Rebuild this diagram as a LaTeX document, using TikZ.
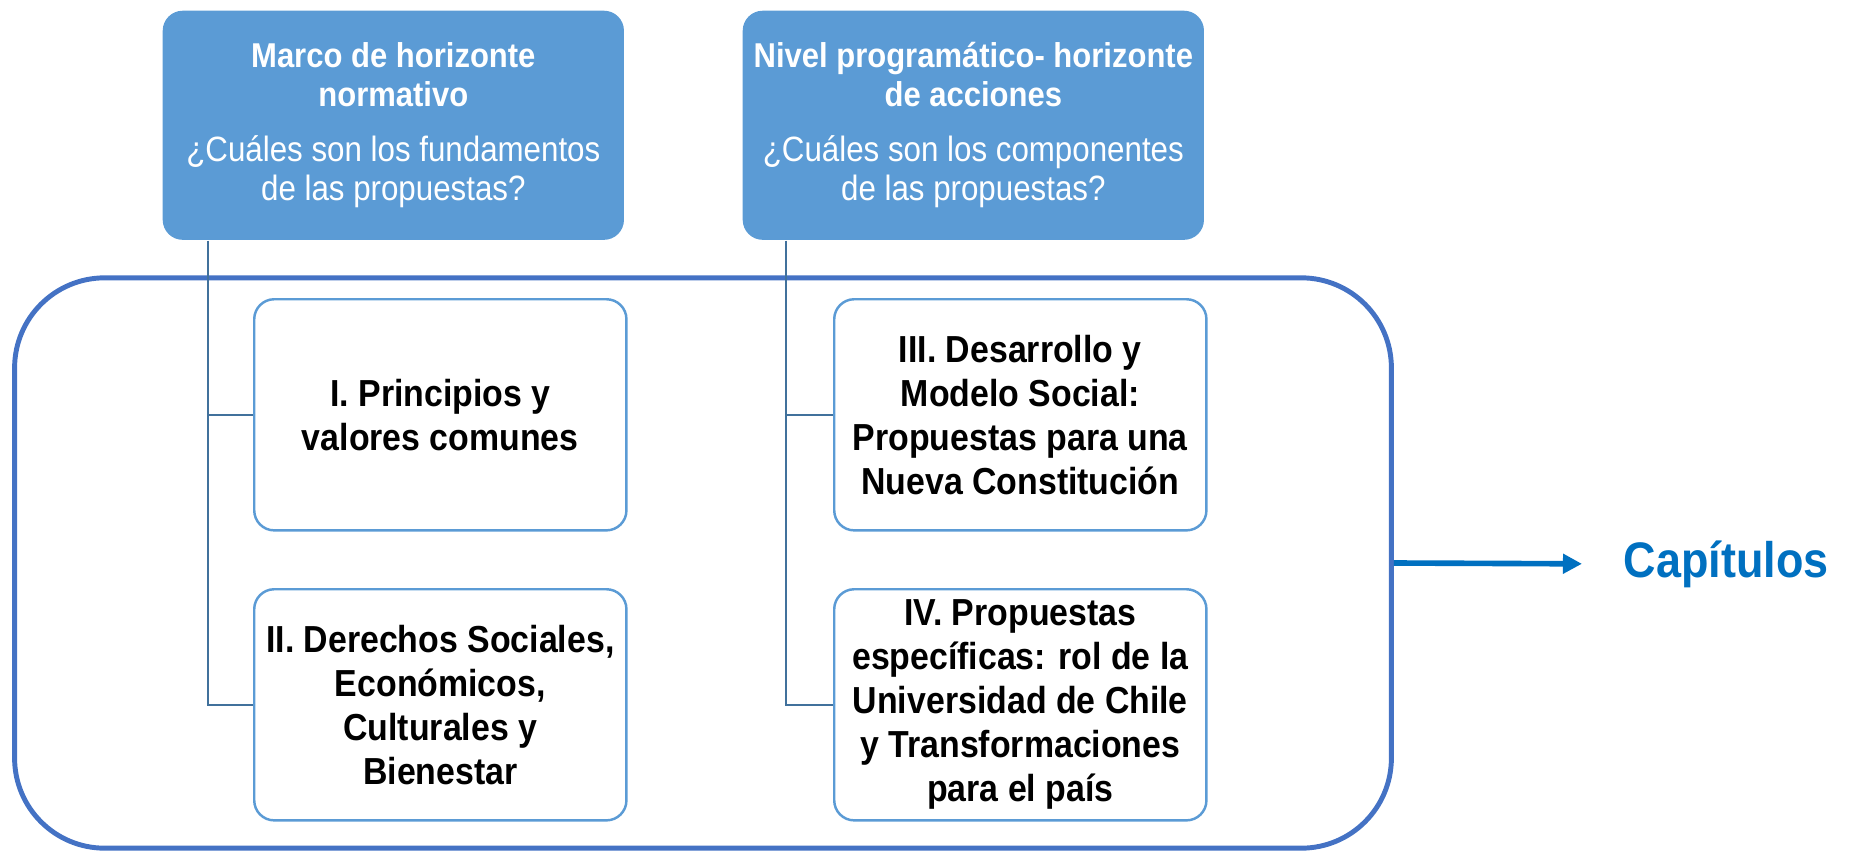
\documentclass[tikz,border=0pt]{standalone}
\usepackage{fontspec}
\setmainfont{Liberation Sans}[FakeStretch=0.9]
\newfontfamily\ligera{Liberation Sans}[FakeStretch=0.89]
\usetikzlibrary{arrows.meta}
\definecolor{azulcaja}{HTML}{5B9BD5}
\definecolor{azullinea}{HTML}{41719C}
\definecolor{azulmarco}{HTML}{4472C4}
\definecolor{azultexto}{HTML}{0070C0}

\begin{document}
\begin{tikzpicture}[x=0.01cm,y=-0.01cm,
  cabecera/.style={rectangle,rounded corners=0.2cm,fill=azulcaja,text=white,
    align=center,minimum width=4.61cm,minimum height=2.29cm,inner sep=0pt,
    font=\fontsize{9.8}{11.1}\selectfont\bfseries},
  capitulo/.style={rectangle,rounded corners=0.2cm,draw=azulcaja,line width=0.7pt,
    align=center,minimum width=3.72cm,minimum height=2.31cm,inner sep=0pt,
    font=\fontsize{10.7}{12.5}\selectfont\bfseries},
  enlace/.style={draw=azullinea,line width=0.6pt}]
  %\draw[help lines] (0,0) grid[step=1cm] (1850,851);
\useasboundingbox (0,0) rectangle (1850,851);
\node[rectangle,rounded corners=0.9cm,draw=azulmarco,line width=1.4pt,
  minimum width=13.76cm,minimum height=5.70cm] (bloque) at (703,563) {};
\node[cabecera,anchor=north west] (normativo) at (162,10)
  {Marco de horizonte\\normativo\\[4.5pt]
   {\ligera\mdseries\fontsize{10}{11.1}\selectfont ¿Cuáles son los fundamentos}\\
   {\ligera\mdseries\fontsize{10}{11.1}\selectfont de las propuestas?}};
\node[cabecera,anchor=north west] (programa) at (742,10)
  {Nivel programático- horizonte\\de acciones\\[4.5pt]
   {\ligera\mdseries\fontsize{10}{11.1}\selectfont ¿Cuáles son los componentes}\\
   {\ligera\mdseries\fontsize{10}{11.1}\selectfont de las propuestas?}};
\node[capitulo,anchor=north west] (uno) at (253,298)
  {I. Principios y\\valores comunes};
\node[capitulo,anchor=north west] (dos) at (253,588)
  {II. Derechos Sociales,\\Económicos,\\Culturales y\\Bienestar};
\node[capitulo,anchor=north west] (tres) at (833,298)
  {III. Desarrollo y\\Modelo Social:\\Propuestas para una\\Nueva Constitución};
\node[capitulo,anchor=north west] (cuatro) at (833,588)
  {IV. Propuestas\\específicas: rol de la\\Universidad de Chile\\y Transformaciones\\para el país};
\node[anchor=west,inner sep=0pt,text=azultexto,font=\fontsize{14.2}{17}\selectfont\bfseries]
  (capitulos) at (1623,564) {Capítulos};
% lineas de la jerarquia
\coordinate (ejeA) at ([xshift=0.46cm]normativo.south west);
\coordinate (ejeB) at ([xshift=0.44cm]programa.south west);
\draw[enlace] (ejeA) |- (dos.west);
\draw[enlace] (ejeA |- uno.west) -- (uno.west);
\draw[enlace] (ejeB) |- (cuatro.west);
\draw[enlace] (ejeB |- tres.west) -- (tres.west);
\draw[azultexto,line width=1.6pt,-{Triangle[length=0.19cm,width=0.19cm]},
  shorten >=0.41cm] (bloque.east) -- (capitulos.west);
\end{tikzpicture}
\end{document}
